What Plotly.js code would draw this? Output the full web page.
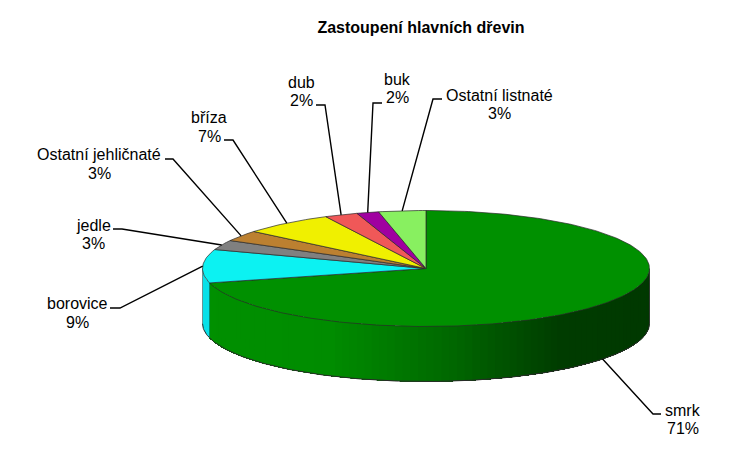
<!DOCTYPE html>
<html>
<head>
<meta charset="utf-8">
<script src="https://cdn.plot.ly/plotly-3.0.1.min.js"></script>
<style>html,body{margin:0;padding:0;background:#fff}</style>
</head>
<body>
<div id="chart" style="width:740px;height:450px"></div>
<script>
// Data
var categories = ["smrk","borovice","jedle","Ostatní jehličnaté","bříza","dub","buk","Ostatní listnaté"];
var shares = [71,9.3,2.7,3,6.6,2.4,1.6,3.4];
var chartTitle = "Zastoupení hlavních dřevin";

// Styles
var topColors = ["#009000","#0CF2F2","#808080","#BC8030","#F0F000","#F05858","#A000A0","#88F060"];
var cyanWall = "#08E0E8";
var outline = "#2a2a2a";

// Layout of the pseudo-3D disc (pixels of the 740x450 canvas)
var cx = 426, cy = 268.5, rx = 223.5, ry = 58, depth = 55;

// Label layout: centre of name line, centre of percent line, leader elbow, leader tick end
var nameCentre = [[683,410],[77,303],[93,225],[99,154],[209,117],[301,82],[397,79],[499,95]];
var pctCentre = [[683,428],[77,322],[93,243],[99,173],[209,136],[301,100],[397,97],[499,113]];
var elbow = [[653,414],[120,308],[122,229],[173,159],[233,140],[325,105],[373,103],[433,99]];
var tickEnd = [[661,414],[110,308],[113,229],[165,159],[224,140],[316,105],[382,103],[442,99]];

function px(a){ return cx + rx*Math.sin(a*Math.PI/180); }
function py(a){ return cy - ry*Math.cos(a*Math.PI/180); }

var total = shares.reduce(function(s,v){return s+v;},0);
var cum = [0];
shares.forEach(function(v,i){ cum.push(cum[i] + v/total*360); });

function arc(a0,a1,dy){
  var n = Math.max(2, Math.ceil(Math.abs(a1-a0))), xs=[], ys=[];
  for (var i=0;i<=n;i++){ var a=a0+(a1-a0)*i/n; xs.push(px(a)); ys.push(py(a)+(dy||0)); }
  return {x:xs,y:ys};
}
function wallGreen(x){
  var stops=[[200,0x90],[330,0x8c],[450,0x68],[560,0x3c],[660,0x38]], g=0x38;
  for (var i=0;i<stops.length-1;i++){
    if (x>=stops[i][0] && x<=stops[i+1][0]){
      g = stops[i][1]+(stops[i+1][1]-stops[i][1])*(x-stops[i][0])/(stops[i+1][0]-stops[i][0]);
    }
  }
  return "rgb(0,"+Math.round(g)+",0)";
}
var traces = [];
function poly(xs,ys,fill,line,w){
  traces.push({type:"scatter",mode:w>0?"lines":"none",x:xs,y:ys,fill:"toself",fillcolor:fill,
    line:{color:line,width:w},hoverinfo:"skip",showlegend:false});
}
function stroke(xs,ys,color,w){
  traces.push({type:"scatter",mode:"lines",x:xs,y:ys,line:{color:color,width:w},
    hoverinfo:"skip",showlegend:false});
}
// side wall of first slice (90deg to its end): each strip reaches to the end, the next paints over it
var wallEnd = cum[1];
for (var a=90; a<wallEnd; a+=2){
  var upper=arc(a,wallEnd,0), lower=arc(wallEnd,a,depth);
  var c=wallGreen((px(a)+px(Math.min(a+2,wallEnd)))/2);
  poly(upper.x.concat(lower.x), upper.y.concat(lower.y), c, c, 0);
}
// side wall of second slice up to the left extreme
var t2=arc(wallEnd,270,0), b2=arc(270,wallEnd,depth);
poly(t2.x.concat(b2.x), t2.y.concat(b2.y), cyanWall, cyanWall, 0);
// wall outlines
var bo=arc(90,270,depth);
stroke(bo.x,bo.y,outline,1);
stroke([px(90),px(90)],[py(90),py(90)+depth],outline,0.8);
stroke([px(270),px(270)],[py(270),py(270)+depth],"#555",0.6);
stroke([px(wallEnd),px(wallEnd)],[py(wallEnd),py(wallEnd)+depth],"#0a6a70",0.6);
// top faces
shares.forEach(function(v,i){
  var ar=arc(cum[i],cum[i+1],0);
  poly([cx].concat(ar.x,[cx]),[cy].concat(ar.y,[cy]),topColors[i],outline,0.7);
});
// leaders, starting at mid-angle of each slice on the visible rim
shares.forEach(function(v,i){
  var m=(cum[i]+cum[i+1])/2, yy=py(m)+((m>90&&m<270)?depth:0);
  stroke([px(m),elbow[i][0],tickEnd[i][0]],[yy,elbow[i][1],tickEnd[i][1]],"#000",1.4);
});

function note(pos,text){
  return {x:pos[0],y:pos[1],xref:"x",yref:"y",text:text,showarrow:false,
    xanchor:"center",yanchor:"middle",align:"center",
    font:{family:"Liberation Sans, Arial, sans-serif",size:16,color:"#000"}};
}
var annotations = [];
categories.forEach(function(name,i){
  annotations.push(note(nameCentre[i],name));
  annotations.push(note(pctCentre[i],Math.round(shares[i])+"%"));
});

var layout = {
  width:740,height:450,margin:{l:0,r:0,t:0,b:0,pad:0},
  paper_bgcolor:"#fff",plot_bgcolor:"#fff",showlegend:false,hovermode:false,
  xaxis:{range:[0,740],visible:false,fixedrange:true},
  yaxis:{range:[450,0],visible:false,fixedrange:true},
  title:{text:"<b>"+chartTitle+"</b>",x:421/740,xanchor:"center",y:1-27.5/450,yanchor:"middle",
    font:{family:"Liberation Sans, Arial, sans-serif",size:16,color:"#000"}},
  annotations:annotations
};
Plotly.newPlot("chart",traces,layout,{displayModeBar:false,staticPlot:true});
</script>
</body>
</html>
